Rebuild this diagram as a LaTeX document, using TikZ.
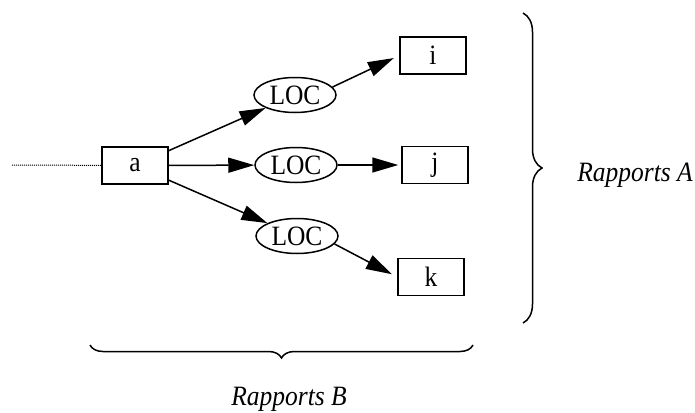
\documentclass[tikz,border=0pt]{standalone}
\usepackage{fontspec}
\setmainfont[FakeStretch=0.91]{Liberation Serif}
\usetikzlibrary{arrows.meta,shapes.geometric,decorations.pathreplacing}
\begin{document}
\begin{tikzpicture}%
	[x=1pt, y=-1pt,
	font=\fontsize{28}{32}\selectfont,
	box/.style={draw, line width=1.5pt, minimum width=66pt, minimum height=37pt, inner sep=0pt},
	loc/.style={draw, ellipse, line width=1.5pt, minimum width=82pt, minimum height=35pt, inner sep=0pt},
	link/.style={line width=1.5pt, -{Triangle[length=26pt, width=15pt]}},
	bracket/.style={line width=1.5pt, decorate, decoration={brace, amplitude=#1}},
	tag/.style={font=\fontsize{28}{32}\selectfont\itshape, anchor=base}]
%
\useasboundingbox (0,0) rectangle (695,412);
%%
%% Coordinates of the free ends
%%
\coordinate (tail) at (12,165);
\coordinate (topA) at (523,13);
\coordinate (botA) at (523,323);
\coordinate (rightB) at (473,345);
\coordinate (leftB) at (90,345);
%%
%% Nodes
%%
\node[box] (a) at (135,165.5) {a};
\node[loc] (loc1) at (295,95) {LOC};
\node[loc] (loc2) at (296,165) {LOC};
\node[loc] (loc3) at (297,236) {LOC};
\node[box] (i) at (433,55.5) {i};
\node[box] (j) at (435,165) {j};
\node[box] (k) at (431,277) {k};
%%
%% Edges
%%
\draw[line width=1pt, dash pattern=on 1pt off 1pt] (tail) -- (a);
\draw[link] (a) -- (loc1);
\draw[link] (a) -- (loc2);
\draw[link] (a) -- (loc3);
\draw[link, shorten >=6pt] (loc1.12) -- (i.west);
\draw[link, shorten >=3pt] (loc2) -- (j);
\draw[link, shorten >=6pt] (loc3.-12) -- (k.west);
%%
%% Braces and their texts
%%
\draw[bracket=19pt] (topA) -- (botA);
\draw[bracket=13pt] (rightB) -- (leftB);
\node[tag] (ra) at (635,181) {Rapports A};
\node[tag] (rb) at (289,405) {Rapports B};
%%
\end{tikzpicture}
\end{document}
